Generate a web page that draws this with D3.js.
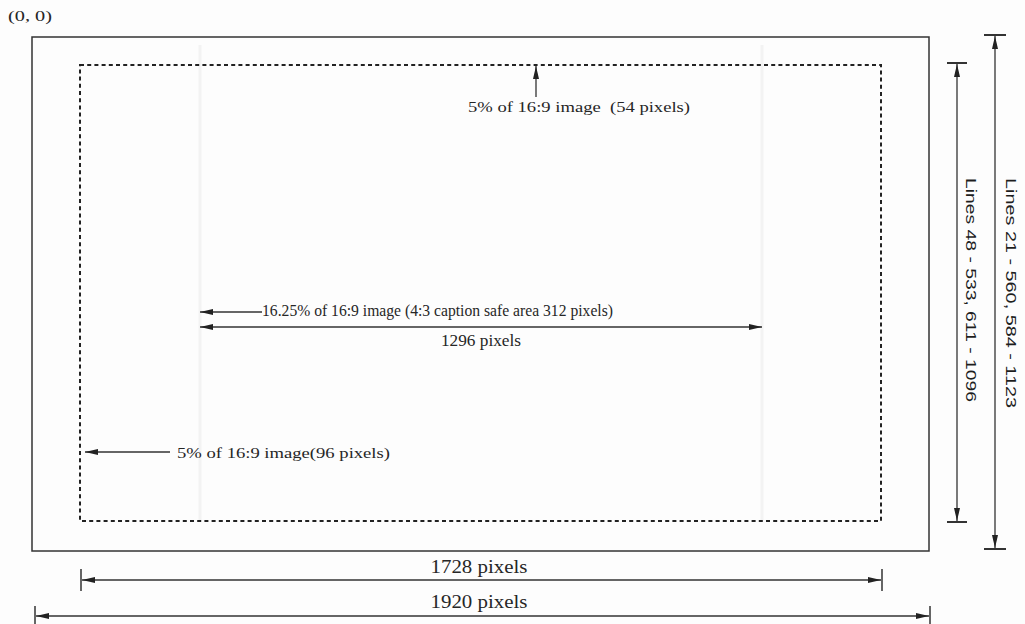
<!DOCTYPE html>
<html>
<head>
<meta charset="utf-8">
<script src="https://cdnjs.cloudflare.com/ajax/libs/d3/7.8.5/d3.min.js"></script>
<style>
    body { margin: 0; background: #fff; }
    text { font-family: "Liberation Serif", "Times New Roman", serif; fill: #262626; white-space: pre; }
    .side { font-family: "Liberation Sans", Arial, sans-serif; fill: #1e1e1e; }
</style>
</head>
<body>
<div id="chart-area"></div>
<script>
// 16:9 frame, in image pixels
var frameSize = [1920, 1080];
var actionSafe = [96, 54];          // 5% of the frame
var captionSafe = [312, 1608];      // 4:3 caption safe area
var xStops = [0, actionSafe[0], captionSafe[0], captionSafe[1], frameSize[0] - actionSafe[0], frameSize[0]];
var yStops = [0, actionSafe[1], frameSize[1] - actionSafe[1], frameSize[1]];

var labels = [
    "5% of 16:9 image  (54 pixels)",
    "16.25% of 16:9 image (4:3 caption safe area 312 pixels)",
    "1296 pixels",
    "5% of 16:9 image(96 pixels)",
    "1728 pixels",
    "1920 pixels"
];
var sideLabels = ["Lines 48 - 533, 611 - 1096", "Lines 21 - 560, 584 - 1123"];

// the drawing is not to scale, so the scales are piecewise
var x = d3.scaleLinear().domain(xStops).range([32, 80, 200, 762, 881, 929]);
var y = d3.scaleLinear().domain(yStops).range([37, 65, 521, 551]);

var svg = d3.select("#chart-area").append("svg")
    .attr("width", 1025)
    .attr("height", 624);

svg.append("rect").attr("width", 1025).attr("height", 624).attr("fill", "#fdfdfd");

svg.append("defs").append("marker")
    .attr("id", "head")
    .attr("markerUnits", "userSpaceOnUse")
    .attr("viewBox", "0 -4 13 8")
    .attr("refX", 13).attr("refY", 0)
    .attr("markerWidth", 13).attr("markerHeight", 8)
    .attr("orient", "auto-start-reverse")
    .append("path")
        .attr("d", "M0,-3L13,0L0,3Z")
        .attr("fill", "#222");

var ink = "#333";

function line(x1, y1, x2, y2, opts) {
    opts = opts || {};
    var l = svg.append("line")
        .attr("x1", x1).attr("y1", y1)
        .attr("x2", x2).attr("y2", y2)
        .attr("stroke", opts.color || ink)
        .attr("stroke-width", opts.width || 1.3);
    if (opts.start) l.attr("marker-start", "url(#head)");
    if (opts.end) l.attr("marker-end", "url(#head)");
    return l;
}

function label(str, tx, ty, size, len, anchor) {
    return svg.append("text")
        .attr("x", tx).attr("y", ty)
        .attr("font-size", size)
        .attr("text-anchor", anchor || "start")
        .attr("textLength", len)
        .attr("lengthAdjust", "spacingAndGlyphs")
        .text(str);
}

// origin
label("(0, 0)", 8, 21, 14, 44);

// faint 4:3 caption safe edges
captionSafe.forEach(function(d) {
    line(x(d), y(actionSafe[1]) - 20, x(d), y(frameSize[1] - actionSafe[1]), { color: "#f3f3f3", width: 3 });
});

// full frame
svg.append("rect")
    .attr("x", x(0)).attr("y", y(0))
    .attr("width", x(frameSize[0]) - x(0))
    .attr("height", y(frameSize[1]) - y(0))
    .attr("fill", "none")
    .attr("stroke", ink)
    .attr("stroke-width", 1.5);

// action safe area
svg.append("rect")
    .attr("x", x(actionSafe[0])).attr("y", y(actionSafe[1]))
    .attr("width", x(frameSize[0] - actionSafe[0]) - x(actionSafe[0]))
    .attr("height", y(frameSize[1] - actionSafe[1]) - y(actionSafe[1]))
    .attr("fill", "none")
    .attr("stroke", "#222")
    .attr("stroke-width", 2)
    .attr("stroke-dasharray", "4,3.2");

// top margin note
line(536, 97, 536, y(actionSafe[1]) + 1, { end: true });
label(labels[0], 468, 112, 15, 222);

// caption safe note
line(262, 312, x(captionSafe[0]), 312, { end: true });
label(labels[1], 262, 316, 16, 351);

line(x(captionSafe[0]), 327, x(captionSafe[1]), 327, { start: true, end: true });
label(labels[2], (x(captionSafe[0]) + x(captionSafe[1])) / 2, 346, 16, 80, "middle");

// left margin note
line(170, 452, x(actionSafe[0]) + 5, 452, { end: true });
label(labels[3], 177, 458, 15, 213);

// vertical extents on the right
function vExtent(cx, y1, y2, half) {
    line(cx, y1 + 1, cx, y2 - 1, { start: true, end: true });
    line(cx - half, y1, cx + half, y1, { width: 2 });
    line(cx - half, y2, cx + half, y2, { width: 2 });
}
vExtent(957, y(actionSafe[1]) - 2, y(frameSize[1] - actionSafe[1]) + 1, 10);
vExtent(995, y(0) - 2, y(frameSize[1]) - 2, 11);

[[966, 290, 224], [1006, 293, 230]].forEach(function(p, i) {
    svg.append("text")
        .attr("class", "side")
        .attr("transform", "translate(" + p[0] + "," + p[1] + ") rotate(90)")
        .attr("font-size", 15)
        .attr("text-anchor", "middle")
        .attr("textLength", p[2])
        .attr("lengthAdjust", "spacingAndGlyphs")
        .text(sideLabels[i]);
});

// horizontal extents at the bottom
function hExtent(x1, x2, cy, half) {
    line(x1 + 1, cy, x2 - 1, cy, { start: true, end: true });
    line(x1, cy - half, x1, cy + half, { width: 1.5 });
    line(x2, cy - half, x2, cy + half, { width: 1.5 });
}
hExtent(x(actionSafe[0]) + 1, x(frameSize[0] - actionSafe[0]) + 1, 580, 11);
label(labels[4], 479, 573, 18, 97, "middle");

hExtent(x(0) + 3, x(frameSize[0]) + 1, 616, 10);
label(labels[5], 479, 608, 18, 97, "middle");
</script>
</body>
</html>
